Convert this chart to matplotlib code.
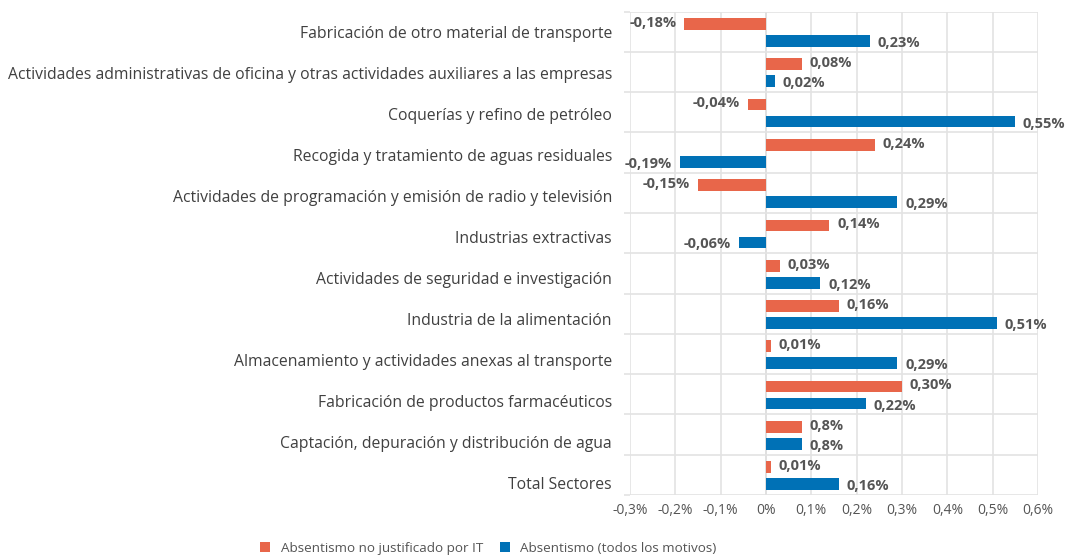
import numpy as np
import matplotlib
matplotlib.use('Agg')
import matplotlib.pyplot as plt

plt.rcParams['font.family'] = ['Open Sans', 'DejaVu Sans']

# ---------------------------------------------------------------------------
# Data
# ---------------------------------------------------------------------------

sectores = [
    'Fabricación de otro material de transporte',
    'Actividades administrativas de oficina y otras actividades auxiliares a las empresas',
    'Coquerías y refino de petróleo',
    'Recogida y tratamiento de aguas residuales',
    'Actividades de programación y emisión de radio y televisión',
    'Industrias extractivas',
    'Actividades de seguridad e investigación',
    'Industria de la alimentación',
    'Almacenamiento y actividades anexas al transporte',
    'Fabricación de productos farmacéuticos',
    'Captación, depuración y distribución de agua',
    'Total Sectores',
]
no_justificado = [-0.18, 0.08, -0.04, 0.24, -0.15, 0.14, 0.03, 0.16, 0.01, 0.30, 0.08, 0.01]
todos_motivos = [0.23, 0.02, 0.55, -0.19, 0.29, -0.06, 0.12, 0.51, 0.29, 0.22, 0.08, 0.16]
etiq_no_just = ['-0,18%', '0,08%', '-0,04%', '0,24%', '-0,15%', '0,14%',
                '0,03%', '0,16%', '0,01%', '0,30%', '0,8%', '0,01%']
etiq_todos = ['0,23%', '0,02%', '0,55%', '-0,19%', '0,29%', '-0,06%',
              '0,12%', '0,51%', '0,29%', '0,22%', '0,8%', '0,16%']
xticks = [-0.3, -0.2, -0.1, 0.0, 0.1, 0.2, 0.3, 0.4, 0.5, 0.6]
xtick_labels = ['-0,3%', '-0,2%', '-0,1%', '0%', '0,1%', '0,2%', '0,3%', '0,4%', '0,5%', '0,6%']

COL_NJ = '#E8664A'
COL_TM = '#0071B6'
TXT = '#555555'
GRID = '#E3E3E3'

# ---------------------------------------------------------------------------
# Plot
# ---------------------------------------------------------------------------

fig = plt.figure(figsize=(10.69, 5.57), dpi=100)
ax = fig.add_axes([630 / 1069, 1 - 495 / 557, 408 / 1069, 483.5 / 557])

n = len(sectores)
y = np.arange(n)
h = 0.29

ax.barh(y - 0.19, no_justificado, height=h, color=COL_NJ, zorder=3,
        label='Absentismo no justificado por IT')
ax.barh(y + 0.23, todos_motivos, height=h, color=COL_TM, zorder=3,
        label='Absentismo (todos los motivos)')

for i in range(n):
    for v, lab, yy in ((no_justificado[i], etiq_no_just[i], i - 0.22),
                       (todos_motivos[i], etiq_todos[i], i + 0.28)):
        if v >= 0:
            ax.annotate(lab, (v, yy), xytext=(5.5, 0), textcoords='offset points',
                        ha='left', va='center', fontsize=10.5, fontweight='bold',
                        color=TXT, zorder=4)
        else:
            ax.annotate(lab, (v, yy), xytext=(-5.5, 0), textcoords='offset points',
                        ha='right', va='center', fontsize=10.5, fontweight='bold',
                        color=TXT, zorder=4)

ax.set_xlim(-0.3, 0.6)
ax.set_ylim(n - 0.5, -0.5)
ax.set_xticks(xticks)
ax.set_xticklabels(xtick_labels, fontsize=10, color=TXT)
# category labels spread slightly wider than the rows, as in the original
ax.set_yticks(y * 1.017 + 0.01)
ax.set_yticklabels(sectores, fontsize=11.3, color='#404040')
ax.set_yticks(np.arange(n + 1) - 0.5, minor=True)
ax.tick_params(axis='y', which='major', length=0, pad=13)
ax.tick_params(axis='y', which='minor', length=4, color=GRID, width=1.2)
ax.tick_params(axis='x', length=0, pad=6)

ax.grid(True, axis='x', color=GRID, lw=1.2, zorder=0)
ax.grid(True, axis='y', which='minor', color=GRID, lw=1.2, zorder=0)
for s in ax.spines.values():
    s.set_visible(False)
ax.axvline(0, color='#D0D0D0', lw=1.2, zorder=1)

fig.legend(loc='lower center', bbox_to_anchor=(0.457, -0.018), ncol=2, frameon=False,
           fontsize=9.7, handlelength=0.75, handleheight=0.75, columnspacing=1.2,
           handletextpad=0.8, labelcolor=TXT)

fig.savefig('out.png', dpi=100)
